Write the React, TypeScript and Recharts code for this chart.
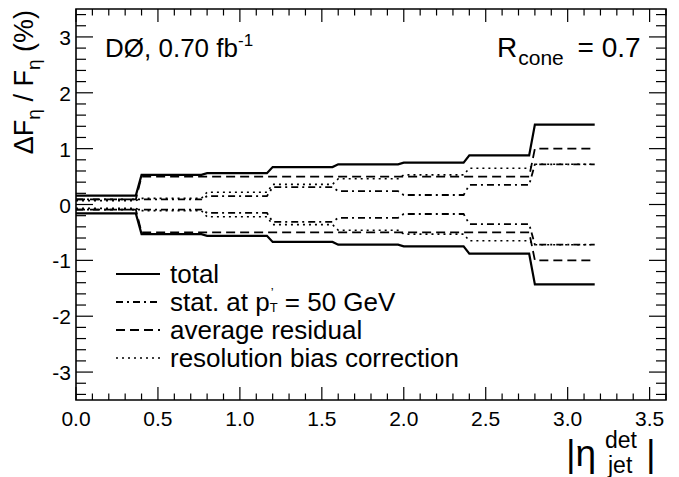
import { LineChart, Line, XAxis, YAxis, ReferenceArea } from "recharts";

// eta bin edges and the relative uncertainties (%) per bin
const etaBinEdges = [0, 0.4, 0.8, 1.2, 1.6, 2.0, 2.4, 2.8, 3.2];
const totalUnc = [0.16, 0.53, 0.56, 0.67, 0.72, 0.75, 0.88, 1.43];
const statUnc = [0.09, 0.09, 0.15, 0.31, 0.24, 0.17, 0.35, 0.72];
const residualUnc = [0.09, 0.5, 0.5, 0.5, 0.5, 0.5, 0.5, 1.0];
const biasUnc = [0.07, 0.11, 0.22, 0.36, 0.46, 0.53, 0.65, 0.72];

const xMajorTicks = [0, 0.5, 1, 1.5, 2, 2.5, 3, 3.5];
const yMajorTicks = [-3, -2, -1, 0, 1, 2, 3];

const W = 671;
const H = 469;
const PLOT = { left: 68, right: 658, top: 1, bottom: 392 };
const SLANT = 0.035; // width of the step edge in eta
const FONT = '"Liberation Sans", Arial, Helvetica, sans-serif';

const xTicks = Array.from({ length: 37 }, (_, i) => Math.round(i) / 10);
const yTicks = Array.from({ length: 35 }, (_, i) => Math.round(-34 + 2 * i) / 10);

const rows: Record<string, number>[] = [];
etaBinEdges.slice(0, -1).forEach((lo, i) => {
  const hi = etaBinEdges[i + 1];
  for (const eta of [lo, hi - SLANT]) {
    rows.push({
      eta,
      totUp: totalUnc[i],
      totDn: -totalUnc[i],
      statUp: statUnc[i],
      statDn: -statUnc[i],
      resUp: residualUnc[i],
      resDn: -residualUnc[i],
      biasUp: biasUnc[i],
      biasDn: -biasUnc[i],
    });
  }
});

const isMajorX = (v: number) => xMajorTicks.some((t) => Math.abs(t - v) < 1e-6);
const isMajorY = (v: number) => yMajorTicks.some((t) => Math.abs(t - v) < 1e-6);

function XTick(props: any) {
  const { x, payload } = props;
  const v = payload.value as number;
  const major = isMajorX(v);
  const len = major ? 13 : 6.5;
  return (
    <g>
      <line x1={x} x2={x} y1={PLOT.bottom} y2={PLOT.bottom - len} stroke="#000" strokeWidth={1.2} />
      <line x1={x} x2={x} y1={PLOT.top} y2={PLOT.top + len} stroke="#000" strokeWidth={1.2} />
      {major && (
        <text x={x} y={PLOT.bottom + 26} textAnchor="middle" fontSize={21} fontFamily={FONT} fill="#000">
          {v.toFixed(1)}
        </text>
      )}
    </g>
  );
}

function YTick(props: any) {
  const { y, payload } = props;
  const v = payload.value as number;
  const major = isMajorY(v);
  const len = major ? 17 : 10;
  return (
    <g>
      <line x1={PLOT.left} x2={PLOT.left + len} y1={y} y2={y} stroke="#000" strokeWidth={1.2} />
      <line x1={PLOT.right} x2={PLOT.right - len} y1={y} y2={y} stroke="#000" strokeWidth={1.2} />
      {major && (
        <text x={PLOT.left - 5} y={y + 8} textAnchor="end" fontSize={21} fontFamily={FONT} fill="#000">
          {String(v)}
        </text>
      )}
    </g>
  );
}

const SOLID = "";
const DASH = "9 5";
const DASHDOT = "7 4 2 4";
const DOT = "2 4";

export default function App() {
  const line = (key: string, dash: string, width: number) => (
    <Line
      key={key}
      dataKey={key}
      type="linear"
      stroke="#000"
      strokeWidth={width}
      strokeDasharray={dash || undefined}
      dot={false}
      activeDot={false}
      isAnimationActive={false}
    />
  );

  const legend = [
    { dash: SOLID, w: 2.2 },
    { dash: DASHDOT, w: 1.8 },
    { dash: DASH, w: 1.8 },
    { dash: DOT, w: 1.6 },
  ];
  const legendY = [266, 294, 322, 350];

  return (
    <div style={{ position: "relative", width: W, height: H }}>
      <LineChart
        width={W}
        height={H}
        data={rows}
        margin={{ top: 1, right: 13, bottom: 0, left: 0 }}
      >
        <XAxis
          dataKey="eta"
          type="number"
          domain={[0, 3.6]}
          ticks={xTicks}
          interval={0}
          axisLine={false}
          tickLine={false}
          height={77}
          tick={(p: any) => <XTick {...p} />}
        />
        <YAxis
          type="number"
          domain={[-3.5, 3.5]}
          ticks={yTicks}
          interval={0}
          axisLine={false}
          tickLine={false}
          width={68}
          tick={(p: any) => <YTick {...p} />}
        />
        <ReferenceArea x1={0} x2={3.6} y1={-3.5} y2={3.5} fill="none" stroke="#000" strokeWidth={1.6} />
        {line("totUp", SOLID, 2.2)}
        {line("totDn", SOLID, 2.2)}
        {line("resUp", DASH, 1.8)}
        {line("resDn", DASH, 1.8)}
        {line("statUp", DASHDOT, 1.8)}
        {line("statDn", DASHDOT, 1.8)}
        {line("biasUp", DOT, 1.6)}
        {line("biasDn", DOT, 1.6)}
      </LineChart>

      <svg
        width={W}
        height={H}
        style={{ position: "absolute", left: 0, top: 0, pointerEvents: "none" }}
        fontFamily={FONT}
      >
        <text x={97} y={49} fontSize={26}>
          DØ, 0.70 fb<tspan fontSize={17} dy={-11}>-1</tspan>
        </text>
        <text x={489} y={49} fontSize={28}>
          R<tspan fontSize={21} dx={1} dy={8}>cone</tspan>
          <tspan dx={6} dy={-8}> = 0.7</tspan>
        </text>

        <text transform="translate(25, 2) rotate(-90)" textAnchor="end" fontSize={27}>
          ΔF<tspan fontSize={19} dy={7}>η</tspan>
          <tspan dy={-7}> / F</tspan>
          <tspan fontSize={19} dy={7}>η</tspan>
          <tspan dy={-7}> (%)</tspan>
        </text>

        <text x={558} y={458} fontSize={37}>|η</text>
        <text x={597} y={440} fontSize={23}>det</text>
        <text x={600} y={465} fontSize={23}>jet</text>
        <text x={638} y={458} fontSize={37}>|</text>

        {legend.map((l, i) => (
          <line
            key={i}
            x1={108}
            x2={152}
            y1={legendY[i]}
            y2={legendY[i]}
            stroke="#000"
            strokeWidth={l.w}
            strokeDasharray={l.dash || undefined}
          />
        ))}
        <text x={162} y={legendY[0] + 9} fontSize={26}>total</text>
        <text x={162} y={legendY[1] + 9} fontSize={26}>
          stat. at p<tspan fontSize={13} dx={1} dy={-14}>’</tspan>
          <tspan fontSize={13} dx={-4} dy={15}>T</tspan>
          <tspan dy={-1}> = 50 GeV</tspan>
        </text>
        <text x={162} y={legendY[2] + 9} fontSize={26}>average residual</text>
        <text x={162} y={legendY[3] + 9} fontSize={26}>resolution bias correction</text>
      </svg>
    </div>
  );
}
